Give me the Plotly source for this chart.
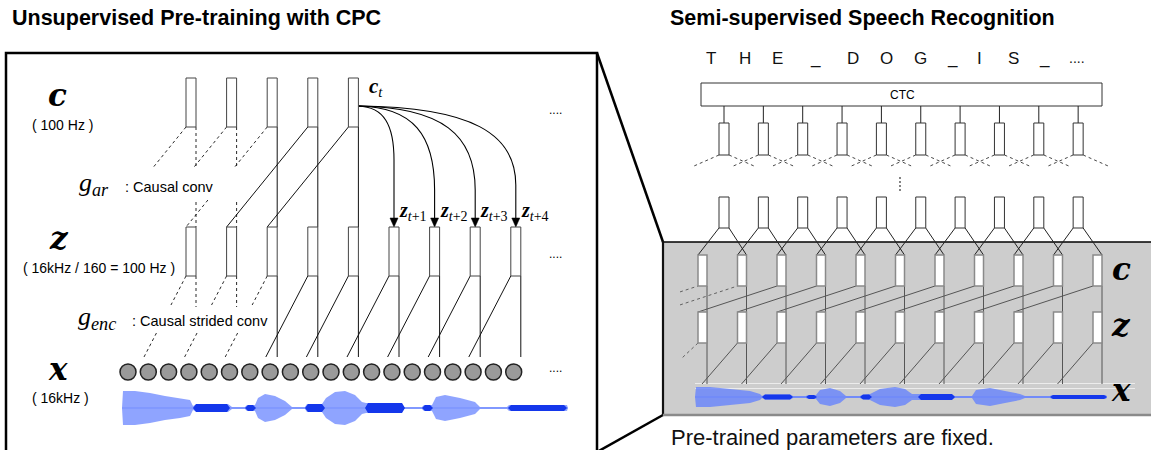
import plotly.graph_objects as go

# ---------------- data ----------------
LEFT_TITLE = "Unsupervised Pre-training with CPC"
RIGHT_TITLE = "Semi-supervised Speech Recognition"
FOOTNOTE = "Pre-trained parameters are fixed."
TRANSCRIPT = ["T", "H", "E", "_", "D", "O", "G", "_", "I", "S", "_", "...."]
PRED_STEPS = ["t+1", "t+2", "t+3", "t+4"]
LEFT_ROW_NOTES = ["( 100 Hz )", "( 16kHz / 160 = 100 Hz )", "( 16kHz )"]
G_AR_TEXT = ": Causal conv"
G_ENC_TEXT = ": Causal strided conv"
N_C_LEFT = 5        # context vectors shown in the left panel
N_Z_LEFT = 9        # latent vectors shown in the left panel
N_X_LEFT = 20       # raw samples (circles)
N_TOP_RIGHT = 10    # ASR-model columns above the frozen block
N_BOX_RIGHT = 11    # frozen CPC columns

# speech waveform envelopes: x and half-amplitude
LEFT_WAVE_X = [122, 123, 135, 150, 165, 180, 190, 193, 197, 215, 228, 232, 245, 247, 255, 258, 265,
               275, 285, 292, 305, 307, 322, 326, 335, 345, 355, 362, 366, 400, 404, 422, 424, 432,
               436, 445, 460, 475, 480, 507, 509, 567, 568]
LEFT_WAVE_AMP = [0, 17, 17, 15, 12, 10, 8, 2, 4, 4, 4, 1, 1, 3, 3, 10, 14,
                 12, 7, 1, 1, 4, 4, 10, 16, 17, 13, 6, 5, 5, 1, 1, 3, 3,
                 11, 13, 10, 6, 1, 1, 3, 3, 0]
LEFT_WAVE_DENSE = [(193, 230, 4), (245, 256, 3), (305, 325, 4), (365, 405, 5), (422, 433, 3), (508, 567, 3)]

RIGHT_WAVE_X = [695, 696, 710, 730, 750, 760, 762, 765, 790, 793, 806, 808, 816, 820, 830, 840, 846,
                860, 862, 870, 880, 895, 905, 912, 920, 950, 955, 972, 976, 990, 1005, 1020, 1025,
                1050, 1052, 1106, 1107]
RIGHT_WAVE_AMP = [0, 10, 10, 8, 6, 3, 1, 2.5, 2.5, 1, 1, 2, 2, 7, 9, 6, 1,
                  1, 2, 3, 8, 10, 8, 3, 3, 3, 1, 1, 7, 9, 6, 3, 1,
                  1, 2, 2, 0]
RIGHT_WAVE_DENSE = [(762, 793, 2.5), (806, 817, 2), (860, 872, 2.5), (918, 955, 3), (1050, 1107, 2)]

# ---------------- helpers ----------------
SANS = "Liberation Sans, Arial, Helvetica, sans-serif"
SERIF = "Liberation Serif, DejaVu Serif, serif"
MATH = "DejaVu Serif, Liberation Serif, serif"
shapes, anns, traces = [], [], []


def line(x0, y0, x1, y1, color="#111", width=1.0, dash=None, layer="above"):
    ln = dict(color=color, width=width)
    if dash:
        ln["dash"] = dash
    shapes.append(dict(type="line", x0=x0, y0=y0, x1=x1, y1=y1, xref="x", yref="y",
                       layer=layer, line=ln))


def rect(x0, y0, x1, y1, fill="white", color="#333", width=1.0, layer="above"):
    shapes.append(dict(type="rect", x0=x0, y0=y0, x1=x1, y1=y1, xref="x", yref="y",
                       layer=layer, fillcolor=fill,
                       line=dict(color=color, width=width)))


def path(p, color="#111", width=1.0, fill=None, layer="above"):
    d = dict(type="path", path=p, xref="x", yref="y", layer=layer,
             line=dict(color=color, width=width))
    if fill:
        d["fillcolor"] = fill
    shapes.append(d)


def circle(cx, cy, r, fill, color, width):
    shapes.append(dict(type="circle", x0=cx - r, y0=cy - r, x1=cx + r, y1=cy + r,
                       xref="x", yref="y", fillcolor=fill,
                       line=dict(color=color, width=width)))


def text(x, y, s, size, family=SANS, color="#000", xanchor="center", yanchor="middle"):
    anns.append(dict(x=x, y=y, xref="x", yref="y", text=s, showarrow=False,
                     font=dict(size=size, family=family, color=color),
                     xanchor=xanchor, yanchor=yanchor))


def x_at(x0, y0, x1, y1, y):
    return x0 + (y - y0) / (y1 - y0) * (x1 - x0)


def seg(x0, y0, x1, y1, ya, yb, **kw):
    line(x_at(x0, y0, x1, y1, ya), ya, x_at(x0, y0, x1, y1, yb), yb, **kw)


def wave(xs, amps, dense, cy, fill, dense_fill, base):
    traces.append(go.Scatter(x=[xs[0], xs[-1]], y=[cy, cy], mode="lines",
                             line=dict(color=base, width=1), hoverinfo="skip", showlegend=False))
    px = list(xs) + list(xs[::-1])
    py = [cy - a for a in amps] + [cy + a for a in amps[::-1]]
    traces.append(go.Scatter(x=px, y=py, mode="lines", fill="toself", fillcolor=fill,
                             line=dict(width=0), hoverinfo="skip", showlegend=False))
    for a, b, h in dense:
        traces.append(go.Scatter(x=[a, a + 3, b - 3, b, b - 3, a + 3, a],
                                 y=[cy, cy - h, cy - h, cy, cy + h, cy + h, cy],
                                 mode="lines", fill="toself", fillcolor=dense_fill,
                                 line=dict(width=0), hoverinfo="skip", showlegend=False))


DASH = "3px,3px"

# ---------------- titles ----------------
text(10, 18, "<b>" + LEFT_TITLE + "</b>", 21.5, xanchor="left")
text(668, 18, "<b>" + RIGHT_TITLE + "</b>", 21.5, xanchor="left")

# ---------------- left panel frame and zoom wedge ----------------
path("M 6,470 L 6,53 L 597,53 L 597,470", color="#000", width=2.5)
line(597, 53, 663, 242, color="#000", width=2.5)
line(597, 452, 663, 415, color="#000", width=2.5)

# ---------------- left panel: CPC ----------------
XL = [186 + 40.6 * k for k in range(N_Z_LEFT)]
W = 10
C_T, C_B = 78, 127
Z_T, Z_B = 227, 276
X_TOP = 357

# c -> z connections (g_ar)
for k in range(N_C_LEFT):
    xl, xr = XL[k], XL[k] + W
    xt = xl - 2 * 40.6
    if k < 2:
        line(xr, C_B, xr, 167, dash=DASH, width=0.9)
        line(xr, 202, xr, Z_T, dash=DASH, width=0.9)
        seg(xl, C_B, xt, Z_T, C_B, 167, dash=DASH, width=0.9)
    elif k == 2:
        line(xr, C_B, xr, Z_T)
        seg(xl, C_B, xt, Z_T, C_B, 167, dash=DASH, width=0.9)
        seg(xl, C_B, xt, Z_T, 200, Z_T, dash=DASH, width=0.9)
    else:
        line(xr, C_B, xr, Z_T)
        line(xl, C_B, xt, Z_T)

# z -> x connections (g_enc)
for k in range(N_Z_LEFT):
    xl, xr = XL[k], XL[k] + W
    xt = xl - 42
    if k < 3:
        if k < 2:
            line(xr, Z_B, xr, 307, dash=DASH, width=0.9)
        else:
            line(xr, Z_B, xr, X_TOP)
        seg(xl, Z_B, xt, X_TOP, Z_B, 305, dash=DASH, width=0.9)
        seg(xl, Z_B, xt, X_TOP, 333, X_TOP, dash=DASH, width=0.9)
    else:
        line(xr, Z_B, xr, X_TOP)
        line(xl, Z_B, xt, X_TOP)

# prediction arrows from c_t
ct_x, ct_y = XL[N_C_LEFT - 1] + W, 106
bends = [160, 190, 190, 185]
for j, step in enumerate(PRED_STEPS):
    tx = XL[N_C_LEFT + j] + W / 2
    yb = bends[j]
    c1x = ct_x + 0.72 * (tx - ct_x)
    c2y = ct_y + 0.35 * (yb - ct_y)
    path(f"M {ct_x},{ct_y} C {c1x:.1f},{ct_y + 1} {tx:.1f},{c2y:.1f} {tx:.1f},{yb} L {tx:.1f},{Z_T - 8}",
         color="#000", width=1.1)
    path(f"M {tx - 4:.1f},{Z_T - 9} L {tx + 4:.1f},{Z_T - 9} L {tx:.1f},{Z_T} Z",
         color="#000", width=0.5, fill="#000")
    text(tx + 3, 211, f"<b><i>z</i></b><sub><i>{step[0]}</i>{step[1:]}</sub>", 20,
         family=SERIF, xanchor="left")

# rectangles
for k in range(N_C_LEFT):
    rect(XL[k], C_T, XL[k] + W, C_B, color="#444", width=1)
for k in range(N_Z_LEFT):
    rect(XL[k], Z_T, XL[k] + W, Z_B, color="#444", width=1)
for i in range(N_X_LEFT):
    circle(128 + 20.3 * i, 372, 8, "#9a9a9a", "#222", 1.5)

# labels
text(57, 95, "<b><i>c</i></b>", 31, family=MATH)
text(62, 125, LEFT_ROW_NOTES[0], 14)
text(59, 238, "<b><i>z</i></b>", 31, family=MATH)
text(99, 268, LEFT_ROW_NOTES[1], 14)
text(58, 369, "<b><i>x</i></b>", 31, family=MATH)
text(60, 398, LEFT_ROW_NOTES[2], 14)
text(77, 184, "<i>g<sub>ar</sub></i>", 26, family=SERIF, xanchor="left")
text(123, 187, G_AR_TEXT, 14.5, xanchor="left")
text(76, 318, "<i>g<sub>enc</sub></i>", 26, family=SERIF, xanchor="left")
text(130, 321, G_ENC_TEXT, 14.5, xanchor="left")
text(367, 87, "<b><i>c</i></b><sub><i>t</i></sub>", 21, family=SERIF, xanchor="left")
for yy in (110, 254, 368):
    text(555, yy, "....", 12)

wave(LEFT_WAVE_X, LEFT_WAVE_AMP, LEFT_WAVE_DENSE, 408,
     "rgba(95,125,255,0.7)", "rgb(20,55,235)", "rgba(150,170,255,0.9)")

# ---------------- right panel ----------------
TX = [711, 745, 777, 815, 853, 886, 920, 952, 979, 1013, 1044, 1077]
for ch, xx in zip(TRANSCRIPT, TX):
    text(xx, 58, ch, 17 if ch != "...." else 14, color="#111")

rect(701, 83, 1102, 106, color="#333", width=1)
text(902, 95, "CTC", 12)

XT = [719 + 39.35 * k for k in range(N_TOP_RIGHT)]
for x in XT:
    line(x + 5, 106, x + 5, 123, color="#222")
    line(x, 155, x - 25, 166, color="#333", dash=DASH, width=0.9)
    line(x + 10, 155, x + 35, 166, color="#333", dash=DASH, width=0.9)
line(900, 177, 900, 191, color="#333", dash="2px,2px", width=1.2)

# frozen block
rect(663, 242, 1160, 415, fill="#cdcdcd", color="rgba(0,0,0,0)", width=0, layer="below")
line(695, 383.5, 1135, 383.5, color="#ececec", width=1, layer="below")
line(695, 388.5, 1135, 388.5, color="#ececec", width=1, layer="below")
line(663, 242, 1151, 242, color="#000", width=1.5)
line(663, 241, 663, 416, color="#111", width=2.2)
line(663, 415, 1151, 415, color="#8a8a8a", width=2.5)

XB = [698 + 39.5 * k for k in range(N_BOX_RIGHT)]
WB = 9
BC_T, BC_B = 255, 286
BZ_T, BZ_B = 312, 343
BX = 384

# top ASR columns -> frozen c
for k, x in enumerate(XT):
    line(x, 228, XB[k], BC_T, color="#222")
    line(x + 10, 228, XB[k + 1] + WB, BC_T, color="#222")
    rect(x, 123, x + 10, 155, color="#333", width=1)
    rect(x, 197, x + 10, 228, color="#333", width=1)

# inside frozen block
for k in range(N_BOX_RIGHT):
    line(XB[k] + WB, BC_B, XB[k] + WB, BX, color="#555", width=1)
for k in range(-2, N_BOX_RIGHT - 2):
    x0 = 698 + 39.5 * k
    x1 = XB[k + 2]
    if k < 0:
        y_start = BZ_T + (BC_B - BZ_T) * (680 - x0) / (x1 - x0)
        line(680, y_start, x1, BC_B, color="#555", dash=DASH, width=0.9)
    else:
        line(x0, BZ_T, x1, BC_B, color="#555", width=1)
for k in range(N_BOX_RIGHT):
    if k == 0:
        line(XB[0], BZ_B, 682, 358, color="#555", dash=DASH, width=0.9)
    else:
        line(XB[k], BZ_B, XB[k - 1] + 4, BX, color="#555", width=1)
for k in range(N_BOX_RIGHT):
    rect(XB[k], BC_T, XB[k] + WB, BC_B, fill="white", color="#8a8a8a", width=1.5)
    rect(XB[k], BZ_T, XB[k] + WB, BZ_B, fill="white", color="#8a8a8a", width=1.5)

wave(RIGHT_WAVE_X, RIGHT_WAVE_AMP, RIGHT_WAVE_DENSE, 397,
     "rgba(95,125,255,0.75)", "rgb(20,55,235)", "rgba(130,150,255,0.9)")

text(1121, 269, "<b><i>c</i></b>", 31, family=MATH)
text(1121, 325, "<b><i>z</i></b>", 31, family=MATH)
text(1121, 390, "<b><i>x</i></b>", 31, family=MATH)
text(669, 437, FOOTNOTE, 22, xanchor="left", color="#111")

# ---------------- figure ----------------
fig = go.Figure(traces)
fig.update_layout(
    width=1151, height=450,
    margin=dict(l=0, r=0, t=0, b=0),
    paper_bgcolor="white", plot_bgcolor="white",
    xaxis=dict(range=[0, 1151], visible=False, fixedrange=True),
    yaxis=dict(range=[450, 0], visible=False, fixedrange=True),
    shapes=shapes, annotations=anns, showlegend=False,
)
fig.write_html("out.html", config={"displayModeBar": False},
               post_script="document.body.style.margin='0px';document.body.style.overflow='hidden';")
